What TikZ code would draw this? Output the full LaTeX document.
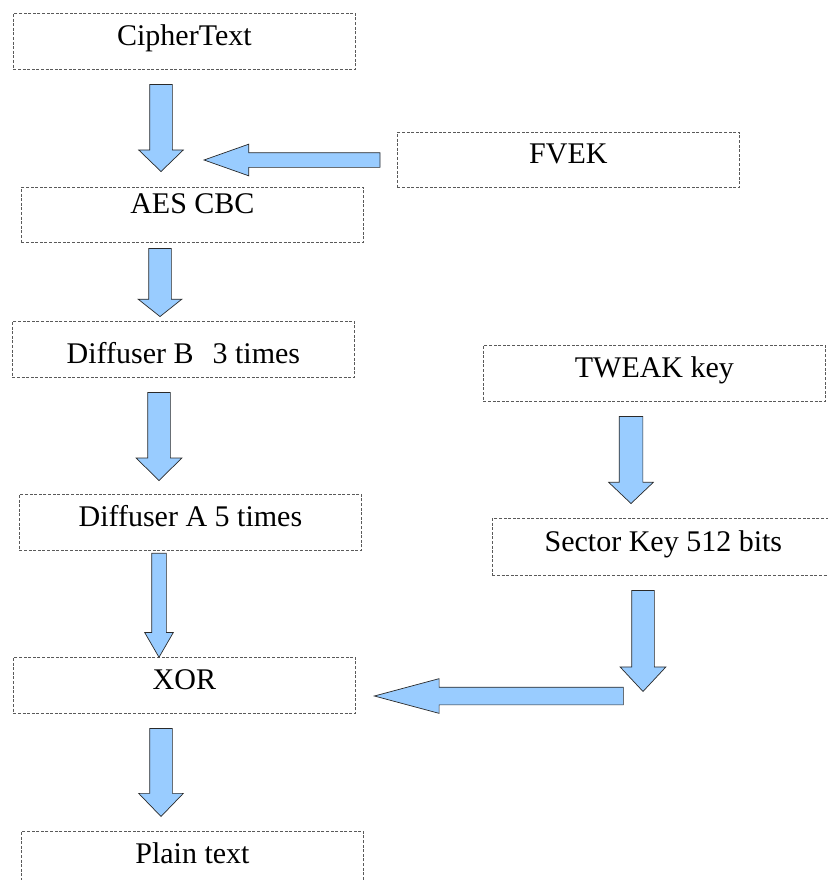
\documentclass[tikz,border=0pt]{standalone}
\usepackage{fontspec}
\setmainfont{Liberation Serif}
\usetikzlibrary{shapes.arrows}
\definecolor{arrowblue}{HTML}{99CCFF}
\definecolor{edgeink}{HTML}{2A2A2A}
\definecolor{dashgray}{HTML}{5A5A5A}
\tikzset{
  stage/.style     = {rectangle, draw=dashgray, line width=0.8pt, dash pattern=on 3pt off 1.6pt,
                      minimum width=342pt, minimum height=56pt, inner sep=0pt,
                      text height=32pt, text depth=24pt, anchor=north west,
                      font=\rmfamily\fontsize{30}{36}\selectfont},
  blockarrow/.style n args = {4}{single arrow, draw=edgeink, fill=arrowblue, line width=0.7pt,
                      inner sep=#2/2, minimum height=#1, anchor=tip,
                      single arrow head extend=#3, single arrow tip angle=#4},
  down/.style      = {shape border rotate=270},
  leftward/.style  = {shape border rotate=180},
}
\begin{document}
\begin{tikzpicture}[x=1pt, y=-1pt]
\useasboundingbox (0,0) rectangle (827,880);

% ---- Main chain ----
\node[stage] (cipher) at (13,13) {CipherText};
\node[stage, text height=26pt, text depth=29pt, minimum height=55pt] (aes) at (21,187) {AES CBC};
\node[stage, text height=42pt, text depth=14pt] (diffb) at (12,321) {Diffuser B\hspace{19pt}3 times};
\node[stage] (diffa) at (19,494) {Diffuser A 5 times};
\node[stage] (xor) at (13,657) {XOR};
\node[stage] (plain) at (21,831) {Plain text};

% ---- Key side ----
\node[stage, text height=31pt, minimum height=55pt] (fvek) at (397,132) {FVEK};
\node[stage] (tweak) at (483,345) {TWEAK key};
\node[stage, minimum height=57pt, text depth=24pt, text height=33pt] (sector) at (492,518) {Sector Key 512 bits};

% ===== Block arrows (length, shaft, head extend, tip angle), placed by their tips =====
\node[blockarrow={87pt}{22pt}{11pt}{92}, down] (a1) at (161,172) {};
\node[blockarrow={176pt}{14pt}{8.5pt}{39}, leftward] (a2) at (203,160) {};
\node[blockarrow={68pt}{22pt}{10.5pt}{103}, down] (a3) at (160,317) {};
\node[blockarrow={88pt}{22pt}{11.5pt}{91}, down] (a4) at (159,481) {};
\node[blockarrow={104pt}{14pt}{7pt}{60}, down] (a5) at (159,658) {};
\node[blockarrow={87pt}{23pt}{10.5pt}{93}, down] (a6) at (631,504) {};
\node[blockarrow={101pt}{22pt}{11.5pt}{86}, down] (a7) at (643,692) {};
\node[blockarrow={249pt}{17pt}{8.5pt}{30}, leftward] (a8) at (373,696) {};
\node[blockarrow={88pt}{22pt}{11pt}{88}, down] (a9) at (161,817) {};

\end{tikzpicture}
\end{document}
